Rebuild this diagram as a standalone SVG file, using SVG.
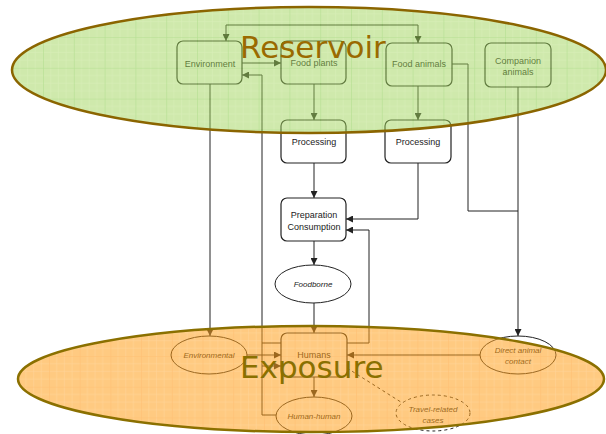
<svg xmlns="http://www.w3.org/2000/svg" width="606" height="434" viewBox="0 0 606 434">
<style>
.box{fill:#fff;stroke:#222;stroke-width:1.2}
.ell{fill:#fff;stroke:#222;stroke-width:1}
.lbl{font-family:"Liberation Sans",Arial,sans-serif;font-size:9px;fill:#222;text-anchor:middle}
.it{font-family:"Liberation Sans",Arial,sans-serif;font-size:8px;font-style:italic;fill:#222;text-anchor:middle}
.con{fill:none;stroke:#222;stroke-width:1}
.big{font-family:"DejaVu Sans",Verdana,sans-serif;font-size:31px}
</style>
<defs>
<marker id="ah" viewBox="0 0 10 10" refX="10" refY="5" markerWidth="8" markerHeight="7" markerUnits="userSpaceOnUse" orient="auto-start-reverse">
<path d="M0,0 L10,5 L0,10 z" fill="#222"/>
</marker>
<pattern id="gg" patternUnits="userSpaceOnUse" x="43" y="37" width="30.8" height="30.8">
<rect width="30.8" height="30.8" fill="#9fd45a"/>
<path d="M7.7,0V30.8M15.4,0V30.8M23.1,0V30.8M0,7.7H30.8M0,15.4H30.8M0,23.1H30.8" stroke="#b0dc72" stroke-width="0.6"/>
<path d="M0,0V30.8M0,0H30.8" stroke="#6cbf24" stroke-width="1.2"/>
</pattern>
<pattern id="og" patternUnits="userSpaceOnUse" x="49" y="356" width="30.7" height="30.7">
<rect width="30.7" height="30.7" fill="#ff9f1a"/>
<path d="M7.7,0V30.7M15.4,0V30.7M23,0V30.7M0,7.7H30.7M0,15.4H30.7M0,23H30.7" stroke="#ffb040" stroke-width="0.6"/>
<path d="M0,0V30.7M0,0H30.7" stroke="#ff8c00" stroke-width="1.2"/>
</pattern>
</defs>
<rect width="606" height="434" fill="#fff"/>

<g id="connectors">
<path class="con" d="M226,41 V25 H418 V43" marker-start="url(#ah)" marker-end="url(#ah)"/>
<path class="con" d="M242,63 H281" marker-end="url(#ah)"/>
<path class="con" d="M276,415 H262 V75 H242" marker-end="url(#ah)"/>
<path class="con" d="M262,343 H281"/>
<path class="con" d="M262,366 H281" marker-end="url(#ah)"/>
<path class="con" d="M210,84 V336" marker-end="url(#ah)"/>
<path class="con" d="M314,84 V120" marker-end="url(#ah)"/>
<path class="con" d="M418,86 V120" marker-end="url(#ah)"/>
<path class="con" d="M314,163 V198" marker-end="url(#ah)"/>
<path class="con" d="M418,163 V219 H346" marker-end="url(#ah)"/>
<path class="con" d="M314,241 V265" marker-end="url(#ah)"/>
<path class="con" d="M314,303 V333" marker-end="url(#ah)"/>
<path class="con" d="M347,343 H369 V230 H346" marker-end="url(#ah)"/>
<path class="con" d="M452,64 H468 V211 H518"/>
<path class="con" d="M518,87 V336" marker-end="url(#ah)"/>
<path class="con" d="M480,355 H347" marker-end="url(#ah)"/>
<path class="con" d="M247,355 H281" marker-end="url(#ah)"/>
<path class="con" d="M314,377 V397" marker-end="url(#ah)"/>
<path class="con" d="M347,368 L404,404" stroke-dasharray="3,3"/>
</g>

<g id="environment"><rect class="box" x="177" y="41" width="65" height="43" rx="6"/><text class="lbl" x="210" y="67">Environment</text></g>
<g id="food-plants"><rect class="box" x="281" y="41" width="65" height="43" rx="6"/><text class="lbl" x="314" y="66">Food plants</text></g>
<g id="food-animals"><rect class="box" x="386" y="43" width="66" height="43" rx="6"/><text class="lbl" x="419" y="67">Food animals</text></g>
<g id="companion-animals"><rect class="box" x="485" y="43" width="66" height="44" rx="6"/><text class="lbl" x="518" y="64">Companion</text><text class="lbl" x="518" y="75">animals</text></g>
<g id="processing-1"><rect class="box" x="281" y="120" width="65" height="43" rx="6"/><text class="lbl" x="314" y="145">Processing</text></g>
<g id="processing-2"><rect class="box" x="385" y="120" width="66" height="43" rx="6"/><text class="lbl" x="418" y="145">Processing</text></g>
<g id="preparation"><rect class="box" x="281" y="198" width="65" height="43" rx="6"/><text class="lbl" x="314" y="218">Preparation</text><text class="lbl" x="314" y="230">Consumption</text></g>
<g id="foodborne"><ellipse class="ell" cx="313" cy="284" rx="38" ry="19"/><text class="it" x="313" y="287">Foodborne</text></g>
<g id="humans"><rect class="box" x="281" y="333" width="66" height="44" rx="6"/><text class="lbl" x="314" y="358">Humans</text></g>
<g id="environmental"><ellipse class="ell" cx="209" cy="355" rx="38" ry="19"/><text class="it" x="209" y="358">Environmental</text></g>
<g id="human-human"><ellipse class="ell" cx="314" cy="416" rx="38" ry="19"/><text class="it" x="314" y="419">Human-human</text></g>
<g id="direct-animal-contact"><ellipse class="ell" cx="518" cy="355" rx="38" ry="19"/><text class="it" x="518" y="353">Direct animal</text><text class="it" x="518" y="364">contact</text></g>
<g id="travel-related"><ellipse class="ell" cx="433" cy="413" rx="37" ry="18" stroke-dasharray="3,3"/><text class="it" x="433" y="412">Travel-related</text><text class="it" x="433" y="423">cases</text></g>

<g id="reservoir">
<ellipse cx="309" cy="70" rx="297" ry="63" fill="url(#gg)" fill-opacity="0.5" stroke="#8b6500" stroke-width="2.5"/>
<text class="big" x="240" y="58" fill="#9a6a00">Reservoir</text>
</g>
<g id="exposure">
<ellipse cx="311" cy="379" rx="293" ry="53" fill="url(#og)" fill-opacity="0.55" stroke="#8b7000" stroke-width="2.5"/>
<text class="big" x="240" y="378" fill="#8a7000">Exposure</text>
</g>
</svg>
